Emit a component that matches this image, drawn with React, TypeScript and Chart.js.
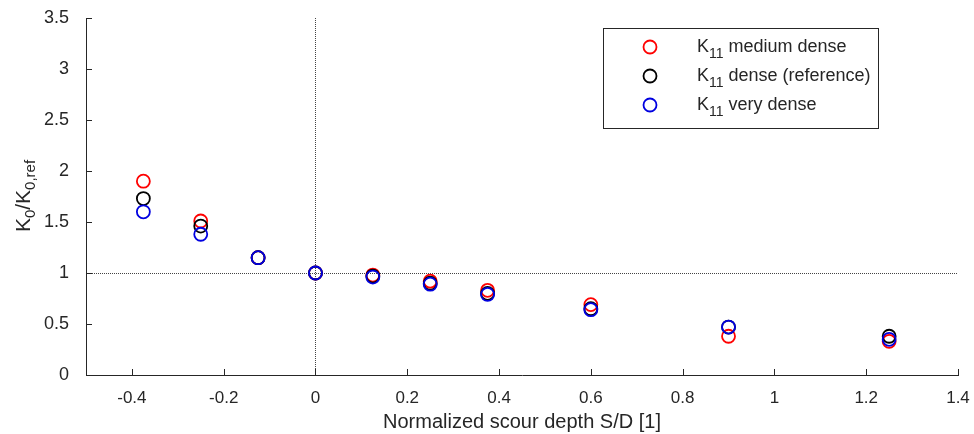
import React, { useEffect, useRef } from "react";
import { Chart, registerables } from "chart.js";

Chart.register(...registerables);

const xValues = [-0.375, -0.25, -0.125, 0, 0.125, 0.25, 0.375, 0.6, 0.9, 1.25];
const mediumDense = [1.9, 1.51, 1.15, 1.0, 0.98, 0.92, 0.83, 0.69, 0.38, 0.33];
const denseRef = [1.73, 1.46, 1.15, 1.0, 0.97, 0.9, 0.8, 0.65, 0.47, 0.38];
const veryDense = [1.6, 1.38, 1.15, 1.0, 0.96, 0.89, 0.79, 0.64, 0.47, 0.35];

const seriesNames = ["medium dense", "dense (reference)", "very dense"];
const seriesColors = ["#ff0000", "#000000", "#0000e0"];
const xTicks = [-0.4, -0.2, 0, 0.2, 0.4, 0.6, 0.8, 1, 1.2, 1.4];
const yTicks = [0, 0.5, 1, 1.5, 2, 2.5, 3, 3.5];

const FONT = "'Liberation Sans', Arial, sans-serif";
const TXT = "#262626";

function toPoints(ys: number[]) {
  return xValues.map((x, i) => ({ x, y: ys[i] }));
}

const customPlugin = {
  id: "custom",
  beforeDatasetsDraw(chart: any) {
    const { ctx, chartArea, scales } = chart;
    const x0 = scales.x.getPixelForValue(0);
    const y1 = scales.y.getPixelForValue(1);
    ctx.save();
    ctx.strokeStyle = "#444";
    ctx.lineWidth = 1;
    ctx.setLineDash([1, 1]);
    ctx.beginPath();
    ctx.moveTo(Math.round(x0) + 0.5, chartArea.top);
    ctx.lineTo(Math.round(x0) + 0.5, chartArea.bottom);
    ctx.moveTo(chartArea.left, Math.round(y1) + 0.5);
    ctx.lineTo(chartArea.right, Math.round(y1) + 0.5);
    ctx.stroke();
    ctx.restore();
  },
  afterDraw(chart: any) {
    const { ctx, chartArea, scales } = chart;
    ctx.save();
    // inward ticks
    ctx.strokeStyle = TXT;
    ctx.lineWidth = 1;
    ctx.beginPath();
    xTicks.forEach((t) => {
      const px = Math.round(scales.x.getPixelForValue(t)) + 0.5;
      ctx.moveTo(px, chartArea.bottom);
      ctx.lineTo(px, chartArea.bottom - 6);
    });
    yTicks.forEach((t) => {
      const py = Math.round(scales.y.getPixelForValue(t)) + 0.5;
      ctx.moveTo(chartArea.left, py);
      ctx.lineTo(chartArea.left + 6, py);
    });
    ctx.stroke();

    // y-axis title with subscripts, rotated
    ctx.save();
    ctx.translate(30, 196);
    ctx.rotate(-Math.PI / 2);
    ctx.fillStyle = TXT;
    ctx.textBaseline = "alphabetic";
    const parts: [string, boolean][] = [
      ["K", false],
      ["0", true],
      ["/K", false],
      ["0,ref", true],
    ];
    const big = `21px ${FONT}`;
    const small = `15px ${FONT}`;
    let total = 0;
    parts.forEach(([s, sub]) => {
      ctx.font = sub ? small : big;
      total += ctx.measureText(s).width;
    });
    let cx = -total / 2;
    parts.forEach(([s, sub]) => {
      ctx.font = sub ? small : big;
      ctx.fillText(s, cx, sub ? 5 : 0);
      cx += ctx.measureText(s).width;
    });
    ctx.restore();

    // legend box
    const bx = 603.5, by = 28.5, bw = 275, bh = 100;
    ctx.fillStyle = "#ffffff";
    ctx.fillRect(bx, by, bw, bh);
    ctx.strokeStyle = "#262626";
    ctx.lineWidth = 1;
    ctx.strokeRect(bx, by, bw, bh);
    const rows = [47, 76, 105];
    seriesNames.forEach((name, i) => {
      const ry = rows[i];
      ctx.beginPath();
      ctx.strokeStyle = seriesColors[i];
      ctx.lineWidth = 1.8;
      ctx.arc(650, ry, 6.5, 0, Math.PI * 2);
      ctx.stroke();
      ctx.fillStyle = TXT;
      ctx.textBaseline = "alphabetic";
      ctx.font = `18px ${FONT}`;
      let tx = 697;
      ctx.fillText("K", tx, ry + 5);
      tx += ctx.measureText("K").width;
      ctx.font = `14px ${FONT}`;
      ctx.fillText("11", tx, ry + 11);
      tx += ctx.measureText("11").width + 5;
      ctx.font = `18px ${FONT}`;
      ctx.fillText(name, tx, ry + 5);
    });
    ctx.restore();
  },
};

export default function App() {
  const ref = useRef<HTMLCanvasElement | null>(null);
  useEffect(() => {
    document.body.style.margin = "0";
    if (!ref.current) return;
    const datasets = [mediumDense, denseRef, veryDense].map((ys, i) => ({
      label: `K11 ${seriesNames[i]}`,
      data: toPoints(ys),
      showLine: false,
      pointStyle: "circle",
      pointRadius: 6.5,
      pointHoverRadius: 6.5,
      pointBorderWidth: 1.8,
      borderColor: seriesColors[i],
      backgroundColor: "rgba(0,0,0,0)",
      pointBackgroundColor: "rgba(0,0,0,0)",
      order: 3 - i,
    }));
    const chart = new Chart(ref.current, {
      type: "scatter",
      data: { datasets },
      options: {
        animation: false,
        responsive: false,
        maintainAspectRatio: false,
        layout: { padding: { top: 18, right: 16, left: 0, bottom: 0 } },
        plugins: { legend: { display: false }, tooltip: { enabled: false } },
        scales: {
          x: {
            type: "linear",
            min: -0.5,
            max: 1.4,
            afterBuildTicks: (s: any) => {
              s.ticks = xTicks.map((v) => ({ value: v }));
            },
            afterFit: (s: any) => {
              s.height = 59;
              s.paddingRight = 0;
              s.paddingLeft = 0;
            },
            grid: { display: false },
            border: { display: true, color: TXT, width: 1 },
            ticks: {
              color: TXT,
              font: { family: FONT, size: 17 },
              padding: 5,
              maxRotation: 0,
              autoSkip: false,
              callback: (v: any) => String(Math.round(Number(v) * 10) / 10),
            },
            title: {
              display: true,
              text: "Normalized scour depth S/D [1]",
              color: TXT,
              font: { family: FONT, size: 20 },
              padding: { top: 0, bottom: 0 },
            },
          },
          y: {
            type: "linear",
            min: 0,
            max: 3.5,
            afterBuildTicks: (s: any) => {
              s.ticks = yTicks.map((v) => ({ value: v }));
            },
            afterFit: (s: any) => {
              s.width = 86;
              s.paddingTop = 0;
              s.paddingBottom = 0;
            },
            grid: { display: false },
            border: { display: true, color: TXT, width: 1 },
            ticks: {
              color: TXT,
              font: { family: FONT, size: 18 },
              padding: 9,
              autoSkip: false,
              callback: (v: any) => String(v),
            },
          },
        },
      },
      plugins: [customPlugin],
    } as any);
    return () => chart.destroy();
  }, []);
  return (
    <div style={{ width: 974, height: 434, background: "#fff" }}>
      <canvas ref={ref} width={974} height={434} style={{ display: "block" }} />
    </div>
  );
}
